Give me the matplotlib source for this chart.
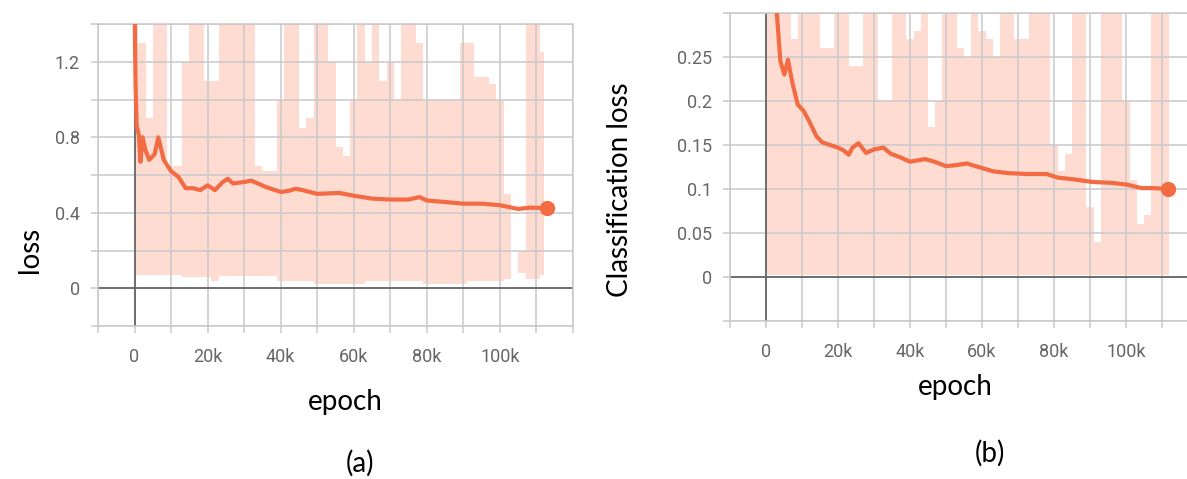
#!/usr/bin/env python3
"""
Training curves (TensorBoard style): total loss and classification loss vs. epoch.
Faint band = raw values, solid line = smoothed values.
"""
import numpy as np
import matplotlib
matplotlib.use("Agg")
import matplotlib.pyplot as plt
from matplotlib.ticker import FixedLocator, FixedFormatter

# ---- (a) loss -------------------------------------------------------------
loss_steps = [0, 300, 600, 1200, 1600, 2200, 3000, 4000, 5500, 6500, 8000,
              10000, 12000, 14000, 16000, 18000, 20000, 22000, 24000, 25500,
              27000, 30000, 32000, 36000, 40000, 42000, 44000, 46000, 50000,
              56000, 60000, 65000, 70000, 75000, 78000, 80000, 85000, 90000,
              95000, 100000, 105000, 108000, 113000]
loss_smooth = [1.50, 1.05, 0.86, 0.81, 0.67, 0.80, 0.73, 0.68, 0.71, 0.80, 0.68,
               0.62, 0.59, 0.53, 0.53, 0.52, 0.545, 0.52, 0.56, 0.58,
               0.555, 0.563, 0.57, 0.536, 0.51, 0.515, 0.527, 0.52, 0.50,
               0.505, 0.49, 0.475, 0.47, 0.47, 0.483, 0.465, 0.457, 0.448,
               0.448, 0.44, 0.42, 0.427, 0.425]

# raw-value band, sampled every 2k steps
band_steps = list(range(0, 114000, 2000))
loss_band_hi = [1.6, 1.3, 0.9, 1.6, 1.5, 0.65, 0.65, 1.2, 1.6, 1.6,
                1.1, 1.1, 1.6, 1.6, 1.6, 1.6, 1.6, 0.65, 0.62, 0.62,
                1.0, 1.6, 1.6, 0.85, 0.9, 1.6, 1.6, 1.2, 0.75, 0.7,
                1.0, 1.6, 1.2, 1.6, 1.1, 1.2, 1.0, 1.6, 1.6, 1.3,
                1.0, 1.0, 1.0, 1.0, 1.0, 1.3, 1.3, 1.12, 1.12, 1.08,
                1.0, 0.5, 0.15, 0.2, 1.6, 1.6, 1.25]
loss_band_lo = [0.07, 0.07, 0.07, 0.07, 0.07, 0.07, 0.07, 0.06, 0.06, 0.06,
                0.06, 0.04, 0.065, 0.065, 0.065, 0.065, 0.065, 0.065, 0.065, 0.065,
                0.04, 0.04, 0.04, 0.04, 0.04, 0.025, 0.025, 0.025, 0.025, 0.025,
                0.025, 0.025, 0.04, 0.04, 0.04, 0.04, 0.04, 0.04, 0.04, 0.04,
                0.025, 0.025, 0.025, 0.025, 0.025, 0.025, 0.04, 0.04, 0.04, 0.04,
                0.04, 0.05, 0.15, 0.08, 0.05, 0.05, 0.07]

# ---- (b) classification loss -----------------------------------------------
cls_steps = [2200, 3000, 4000, 5100, 6100, 7200, 8800, 10400, 12000, 14000,
             15600, 17800, 20000, 21500, 23000, 24000, 25700, 27800, 30000,
             32600, 34700, 37300, 40000, 44200, 46800, 50000, 52600, 55800,
             59000, 63200, 67400, 72700, 78000, 81000, 85400, 90700, 96000,
             100200, 104400, 107600, 111800]
cls_smooth = [0.34, 0.30, 0.245, 0.23, 0.247, 0.223, 0.196, 0.189, 0.177, 0.16,
              0.153, 0.15, 0.147, 0.144, 0.139, 0.147, 0.152, 0.141, 0.145,
              0.147, 0.140, 0.136, 0.131, 0.134, 0.131, 0.126, 0.127, 0.129,
              0.125, 0.120, 0.118, 0.117, 0.117, 0.113, 0.111, 0.108, 0.107,
              0.105, 0.101, 0.101, 0.100]
cls_band_hi = [0.4, 0.4, 0.4, 0.4, 0.27, 0.4, 0.4, 0.3, 0.26, 0.26,
               0.4, 0.4, 0.24, 0.24, 0.4, 0.4, 0.2, 0.2, 0.4, 0.4,
               0.27, 0.28, 0.4, 0.17, 0.2, 0.4, 0.4, 0.26, 0.25, 0.4,
               0.28, 0.27, 0.25, 0.4, 0.4, 0.27, 0.27, 0.4, 0.4, 0.4,
               0.15, 0.12, 0.14, 0.4, 0.4, 0.08, 0.04, 0.4, 0.4, 0.4,
               0.2, 0.11, 0.06, 0.07, 0.4, 0.4, 0.4]
cls_band_lo = [0.002] * len(band_steps)

LINE = "#f26b43"
BAND = "#ff7043"
GRID = "#c9c9c9"
ZERO = "#666666"
TICK_TEXT = "#666666"


def fmt_k(v):
    return "0" if v == 0 else f"{int(v / 1000)}k"


def style_axes(ax, xlim, ylim, y_grid, y_labels):
    ax.set_xlim(*xlim)
    ax.set_ylim(*ylim)

    x_grid = np.arange(-10000, 130000, 10000)
    x_major = [0, 20000, 40000, 60000, 80000, 100000]
    ax.xaxis.set_major_locator(FixedLocator(x_major))
    ax.xaxis.set_major_formatter(FixedFormatter([fmt_k(v) for v in x_major]))
    ax.xaxis.set_minor_locator(FixedLocator([v for v in x_grid if v not in x_major]))

    ax.yaxis.set_major_locator(FixedLocator([v for v, _ in y_labels]))
    ax.yaxis.set_major_formatter(FixedFormatter([s for _, s in y_labels]))
    ax.yaxis.set_minor_locator(FixedLocator([v for v in y_grid
                                             if all(abs(v - m) > 1e-9 for m, _ in y_labels)]))

    ax.grid(True, which="both", color=GRID, linewidth=1.1)
    ax.tick_params(which="both", length=5, width=1.1, color=GRID,
                   labelcolor=TICK_TEXT, labelsize=13)
    ax.tick_params(axis="x", which="both", pad=11)
    ax.tick_params(axis="y", which="both", pad=8)
    for lab in ax.get_xticklabels() + ax.get_yticklabels():
        lab.set_fontfamily("Roboto")
    for sp in ax.spines.values():
        sp.set_color(GRID)
        sp.set_linewidth(1.1)

    ax.axvline(0, color=ZERO, linewidth=1.3, zorder=2)
    ax.axhline(0, color=ZERO, linewidth=1.3, zorder=2)


def main():
    W, H = 1187, 479
    fig = plt.figure(figsize=(W / 100, H / 100), dpi=100)

    # left panel: -10k..120k spans x 98..573 px, -0.2..1.4 spans y 326..24 px
    ax1 = fig.add_axes([98 / W, 1 - 326 / H, 475 / W, 302 / H])
    ax1.fill_between(band_steps, loss_band_lo, loss_band_hi, step="mid",
                     color=BAND, alpha=0.24, linewidth=0, zorder=1)
    ax1.plot(loss_steps, loss_smooth, color=LINE, linewidth=3.0, zorder=3,
             solid_joinstyle="round", solid_capstyle="round")
    ax1.plot(loss_steps[-1], loss_smooth[-1], "o", color=LINE, markersize=10, zorder=4)
    style_axes(ax1, (-10000, 120000), (-0.2, 1.4),
               np.round(np.arange(-0.2, 1.41, 0.2), 2),
               [(0, "0"), (0.4, "0.4"), (0.8, "0.8"), (1.2, "1.2")])

    # right panel: -10k..120k spans x 730..1198 px (clipped by figure edge)
    ax2 = fig.add_axes([730 / W, 1 - 321 / H, 468 / W, 308 / H])
    ax2.fill_between(band_steps, cls_band_lo, cls_band_hi, step="mid",
                     color=BAND, alpha=0.24, linewidth=0, zorder=1)
    ax2.plot(cls_steps, cls_smooth, color=LINE, linewidth=3.0, zorder=3,
             solid_joinstyle="round", solid_capstyle="round")
    ax2.plot(cls_steps[-1], cls_smooth[-1], "o", color=LINE, markersize=10, zorder=4)
    style_axes(ax2, (-10000, 120000), (-0.05, 0.30),
               np.round(np.arange(-0.05, 0.31, 0.05), 2),
               [(0, "0"), (0.05, "0.05"), (0.1, "0.1"), (0.15, "0.15"),
                (0.2, "0.2"), (0.25, "0.25")])

    label_kw = dict(fontsize=20, fontfamily="Lato", color="black",
                    ha="center", va="center")
    fig.text(30 / W, 1 - 250 / H, "loss", rotation=90, **label_kw)
    fig.text(345 / W, 1 - 402 / H, "epoch", **label_kw)
    fig.text(360 / W, 1 - 463 / H, "(a)", **label_kw)
    fig.text(620 / W, 1 - 190 / H, "Classification loss", rotation=90, **label_kw)
    fig.text(955 / W, 1 - 387 / H, "epoch", **label_kw)
    fig.text(990 / W, 1 - 453 / H, "(b)", **label_kw)

    fig.savefig("out.png", dpi=100)
    plt.close(fig)


if __name__ == "__main__":
    main()
